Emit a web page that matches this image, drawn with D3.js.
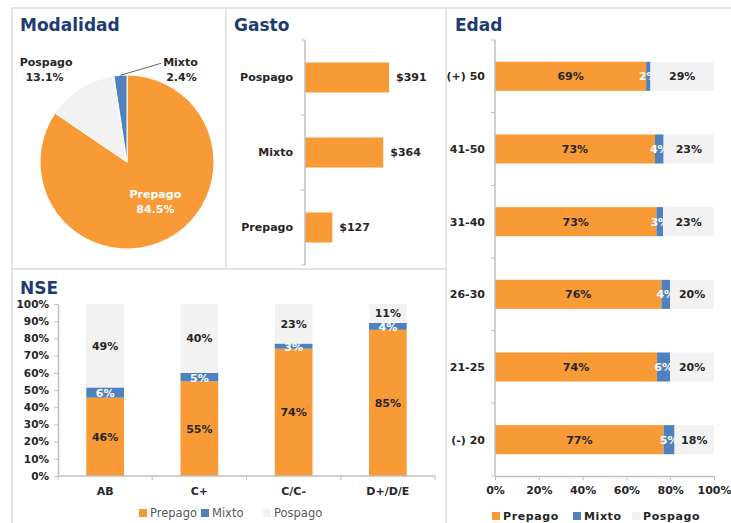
<html>
<head>
<script src="https://d3js.org/d3.v7.min.js"></script>
<meta charset="utf-8">
<style>
  body { margin: 0; background: #fff; }
  text { font-family: "DejaVu Sans", sans-serif; }
</style>
</head>
<body>
<script>
// ---- data ----
const modalidades = ["Prepago", "Pospago", "Mixto"];
const modalidadPct = [84.5, 13.1, 2.4];

const gastoCats = ["Pospago", "Mixto", "Prepago"];
const gastoValues = [391, 364, 127];

const series = ["Prepago", "Mixto", "Pospago"];

const edadCats = ["(+) 50", "41-50", "31-40", "26-30", "21-25", "(-) 20"];
const edadPrepago = [69, 73, 73, 76, 74, 77];
const edadMixto = [2, 4, 3, 4, 6, 5];
const edadPospago = [29, 23, 23, 20, 20, 18];

const nseCats = ["AB", "C+", "C/C-", "D+/D/E"];
const nsePrepago = [46, 55, 74, 85];
const nseMixto = [6, 5, 3, 4];
const nsePospago = [49, 40, 23, 11];

const edadTicks = [0, 20, 40, 60, 80, 100];
const nseTicks = [0, 10, 20, 30, 40, 50, 60, 70, 80, 90, 100];

// ---- styles ----
const W = 731, H = 523;
const colors = { Prepago: "#F89A36", Mixto: "#4F81BD", Pospago: "#F2F2F2" };
const titleColor = "#1F3B73";
const inkColor = "#262626";
const axisColor = "#BFBFBF";
const borderColor = "#DCDCDC";

const svg = d3.select("body")
  .append("svg")
  .attr("width", W)
  .attr("height", H);

// panel frame
const frame = [
  [12, 8, W, 8], [12, 8, 12, H], [226, 8, 226, 269],
  [12, 269, 446, 269], [446, 8, 446, H]
];
svg.append("g").selectAll("line").data(frame).join("line")
  .attr("x1", d => d[0]).attr("y1", d => d[1])
  .attr("x2", d => d[2]).attr("y2", d => d[3])
  .attr("stroke", borderColor).attr("stroke-width", 1.5);

function title(x, y, t) {
  svg.append("text").text(t)
    .attr("x", x).attr("y", y)
    .attr("fill", titleColor)
    .style("font-size", "17px").style("font-weight", "bold");
}
title(20, 31, "Modalidad");
title(234, 31, "Gasto");
title(455, 31, "Edad");
title(20, 294, "NSE");

// ================= Modalidad (pie) =================
const pieData = modalidades.map((m, i) => ({ name: m, v: modalidadPct[i] }));
const cx = 127, cy = 162, r = 87;
const pie = d3.pie().sort(null).value(d => d.v);
const arcs = pie(pieData);
const arc = d3.arc().innerRadius(0).outerRadius(r);
const gPie = svg.append("g").attr("transform", `translate(${cx},${cy})`);

gPie.selectAll("path").data(arcs).join("path")
  .attr("d", arc)
  .attr("fill", d => colors[d.data.name])
  .attr("stroke", "#fff").attr("stroke-width", 1);

const inArc = d3.arc().innerRadius(50).outerRadius(50);
const outArc = d3.arc().innerRadius(104).outerRadius(104);

arcs.forEach(a => {
  const lbl = gPie.append("text")
    .style("font-size", "11px").style("font-weight", "bold");
  let p, anchor, dx = 0;
  if (a.data.name === "Prepago") {
    p = inArc.centroid(a); anchor = "middle"; dx = 5;
    lbl.attr("fill", "#fff");
    p[1] -= 8;
  } else if (a.data.name === "Pospago") {
    p = outArc.centroid(a); anchor = "end"; dx = 1;
    lbl.attr("fill", inkColor);
    p[1] -= 8;
  } else {
    p = outArc.centroid(a); anchor = "start"; dx = 44;
    lbl.attr("fill", inkColor);
    p[1] += 8;
    // leader line
    const mid = (a.startAngle + a.endAngle) / 2;
    gPie.append("line")
      .attr("x1", r * Math.sin(mid)).attr("y1", -r * Math.cos(mid))
      .attr("x2", p[0] + dx - 2).attr("y2", p[1] - 3)
      .attr("stroke", "#404040").attr("stroke-width", 0.8);
  }
  lbl.attr("text-anchor", anchor);
  lbl.append("tspan").attr("x", p[0] + dx).attr("y", p[1]).text(a.data.name);
  lbl.append("tspan").attr("x", p[0] + dx - (anchor === "end" ? 9 : 0) + (anchor === "start" ? 3 : 0))
    .attr("y", p[1] + 15).text(a.data.v.toFixed(1) + "%");
});

// ================= Gasto (bars) =================
const gx = d3.scaleLinear().domain([0, 400]).range([305, 391]);
const gy = d3.scaleBand().domain(gastoCats).range([40, 265])
  .paddingInner(0.6).paddingOuter(0.3);

svg.append("g").selectAll("rect").data(gastoCats).join("rect")
  .attr("x", gx(0)).attr("y", d => gy(d))
  .attr("width", (d, i) => gx(gastoValues[i]) - gx(0))
  .attr("height", gy.bandwidth())
  .attr("fill", colors.Prepago);

svg.append("g").selectAll("text").data(gastoCats).join("text")
  .attr("x", (d, i) => gx(gastoValues[i]) + 7)
  .attr("y", d => gy(d) + gy.bandwidth() / 2)
  .attr("dy", "0.35em")
  .attr("fill", inkColor)
  .style("font-size", "11px").style("font-weight", "bold")
  .text((d, i) => "$" + gastoValues[i]);

function bandAxisLeft(scale, x, labelX) {
  const g = svg.append("g");
  const [y0, y1] = scale.range();
  g.append("line").attr("x1", x).attr("x2", x).attr("y1", y0).attr("y2", y1)
    .attr("stroke", axisColor).attr("stroke-width", 1.5);
  const bounds = scale.domain().map(c => scale(c) - scale.step() * 0.3).concat([y1]);
  g.selectAll(".tk").data(bounds).join("line")
    .attr("x1", x - 4).attr("x2", x).attr("y1", d => d).attr("y2", d => d)
    .attr("stroke", axisColor);
  g.selectAll("text").data(scale.domain()).join("text")
    .attr("x", labelX).attr("y", d => scale(d) + scale.bandwidth() / 2)
    .attr("dy", "0.35em").attr("text-anchor", "end")
    .attr("fill", inkColor)
    .style("font-size", "11px").style("font-weight", "bold")
    .text(d => d);
}
bandAxisLeft(gy, 305, 293);

// ================= Edad (stacked horizontal) =================
const edadRows = edadCats.map((c, i) => ({
  cat: c, Prepago: edadPrepago[i], Mixto: edadMixto[i], Pospago: edadPospago[i]
}));
const edadStack = d3.stack().keys(series).offset(d3.stackOffsetExpand)(edadRows);

const ex = d3.scaleLinear().domain([0, 1]).range([495, 714]);
const ey = d3.scaleBand().domain(edadCats).range([40, 476])
  .paddingInner(0.6).paddingOuter(0.3);

const gEdad = svg.append("g");
edadStack.forEach(s => {
  gEdad.append("g").selectAll("rect").data(s).join("rect")
    .attr("x", d => ex(d[0])).attr("y", d => ey(d.data.cat))
    .attr("width", d => ex(d[1]) - ex(d[0]))
    .attr("height", ey.bandwidth())
    .attr("fill", colors[s.key]);
  gEdad.append("g").selectAll("text").data(s).join("text")
    .attr("x", d => (ex(d[0]) + ex(d[1])) / 2)
    .attr("y", d => ey(d.data.cat) + ey.bandwidth() / 2)
    .attr("dy", "0.35em").attr("text-anchor", "middle")
    .attr("fill", s.key === "Mixto" ? "#fff" : inkColor)
    .style("font-size", "11px").style("font-weight", "bold")
    .text(d => d.data[s.key] + "%");
});
bandAxisLeft(ey, 495, 485);

const edadAxis = svg.append("g")
  .attr("transform", "translate(0,476)")
  .call(d3.axisBottom(ex).tickValues(edadTicks.map(t => t / 100))
    .tickFormat(d => Math.round(d * 100) + "%").tickSize(4).tickSizeOuter(0).tickPadding(6));
edadAxis.select(".domain").attr("stroke", axisColor).attr("stroke-width", 1.5);
edadAxis.selectAll(".tick line").attr("stroke", axisColor);
edadAxis.selectAll("text").attr("fill", inkColor)
  .style("font-size", "11px").style("font-weight", "bold");

// legend Edad
const legE = svg.append("g").selectAll("g").data(series).join("g")
  .attr("transform", (d, i) => `translate(${[492, 573, 632][i]},516)`);
legE.append("rect").attr("x", 0).attr("y", -4).attr("width", 8).attr("height", 8)
  .attr("fill", d => colors[d]);
legE.append("text").attr("x", 11).attr("y", 0).attr("dy", "0.35em")
  .attr("fill", inkColor)
  .style("font-size", "11px").style("font-weight", "bold").style("letter-spacing", "0.6px")
  .text(d => d);

// ================= NSE (stacked vertical) =================
const nseRows = nseCats.map((c, i) => ({
  cat: c, Prepago: nsePrepago[i], Mixto: nseMixto[i], Pospago: nsePospago[i]
}));
const nseStack = d3.stack().keys(series).offset(d3.stackOffsetExpand)(nseRows);

const nx = d3.scaleBand().domain(nseCats).range([58, 435])
  .paddingInner(0.6).paddingOuter(0.3);
const ny = d3.scaleLinear().domain([0, 1]).range([476, 304]);

const gNse = svg.append("g");
nseStack.forEach(s => {
  gNse.append("g").selectAll("rect").data(s).join("rect")
    .attr("x", d => nx(d.data.cat)).attr("y", d => ny(d[1]))
    .attr("width", nx.bandwidth())
    .attr("height", d => ny(d[0]) - ny(d[1]))
    .attr("fill", colors[s.key]);
  gNse.append("g").selectAll("text").data(s).join("text")
    .attr("x", d => nx(d.data.cat) + nx.bandwidth() / 2)
    .attr("y", d => (ny(d[0]) + ny(d[1])) / 2 + (s.key === "Mixto" ? 1 : 0))
    .attr("dy", "0.35em").attr("text-anchor", "middle")
    .attr("fill", s.key === "Mixto" ? "#fff" : inkColor)
    .style("font-size", "11px").style("font-weight", "bold")
    .text(d => d.data[s.key] + "%");
});

const nseYAxis = svg.append("g")
  .attr("transform", "translate(58,0)")
  .call(d3.axisLeft(ny).tickValues(nseTicks.map(t => t / 100))
    .tickFormat(d => Math.round(d * 100) + "%").tickSize(4).tickSizeOuter(0).tickPadding(5));
nseYAxis.select(".domain").attr("stroke", axisColor).attr("stroke-width", 1.5);
nseYAxis.selectAll(".tick line").attr("stroke", axisColor);
nseYAxis.selectAll("text").attr("fill", inkColor)
  .style("font-size", "10.5px").style("font-weight", "bold");

// x axis NSE: line with ticks between categories
const gNx = svg.append("g");
gNx.append("line").attr("x1", 58).attr("x2", 435).attr("y1", 476).attr("y2", 476)
  .attr("stroke", axisColor).attr("stroke-width", 1.5);
const nBounds = nseCats.map(c => nx(c) - nx.step() * 0.3).concat([435]);
gNx.selectAll(".tk").data(nBounds).join("line")
  .attr("x1", d => d).attr("x2", d => d).attr("y1", 476).attr("y2", 480)
  .attr("stroke", axisColor);
gNx.selectAll("text").data(nseCats).join("text")
  .attr("x", d => nx(d) + nx.bandwidth() / 2).attr("y", 491)
  .attr("dy", "0.35em").attr("text-anchor", "middle")
  .attr("fill", inkColor)
  .style("font-size", "11px").style("font-weight", "bold")
  .text(d => d);

// legend NSE
const legN = svg.append("g").selectAll("g").data(series).join("g")
  .attr("transform", (d, i) => `translate(${[139, 201, 263][i]},513)`);
legN.append("rect").attr("x", 0).attr("y", -4).attr("width", 8).attr("height", 8)
  .attr("fill", d => colors[d]);
legN.append("text").attr("x", 11).attr("y", 0).attr("dy", "0.35em")
  .attr("fill", "#595959")
  .style("font-size", "11.5px")
  .text(d => d);
</script>
</body>
</html>
